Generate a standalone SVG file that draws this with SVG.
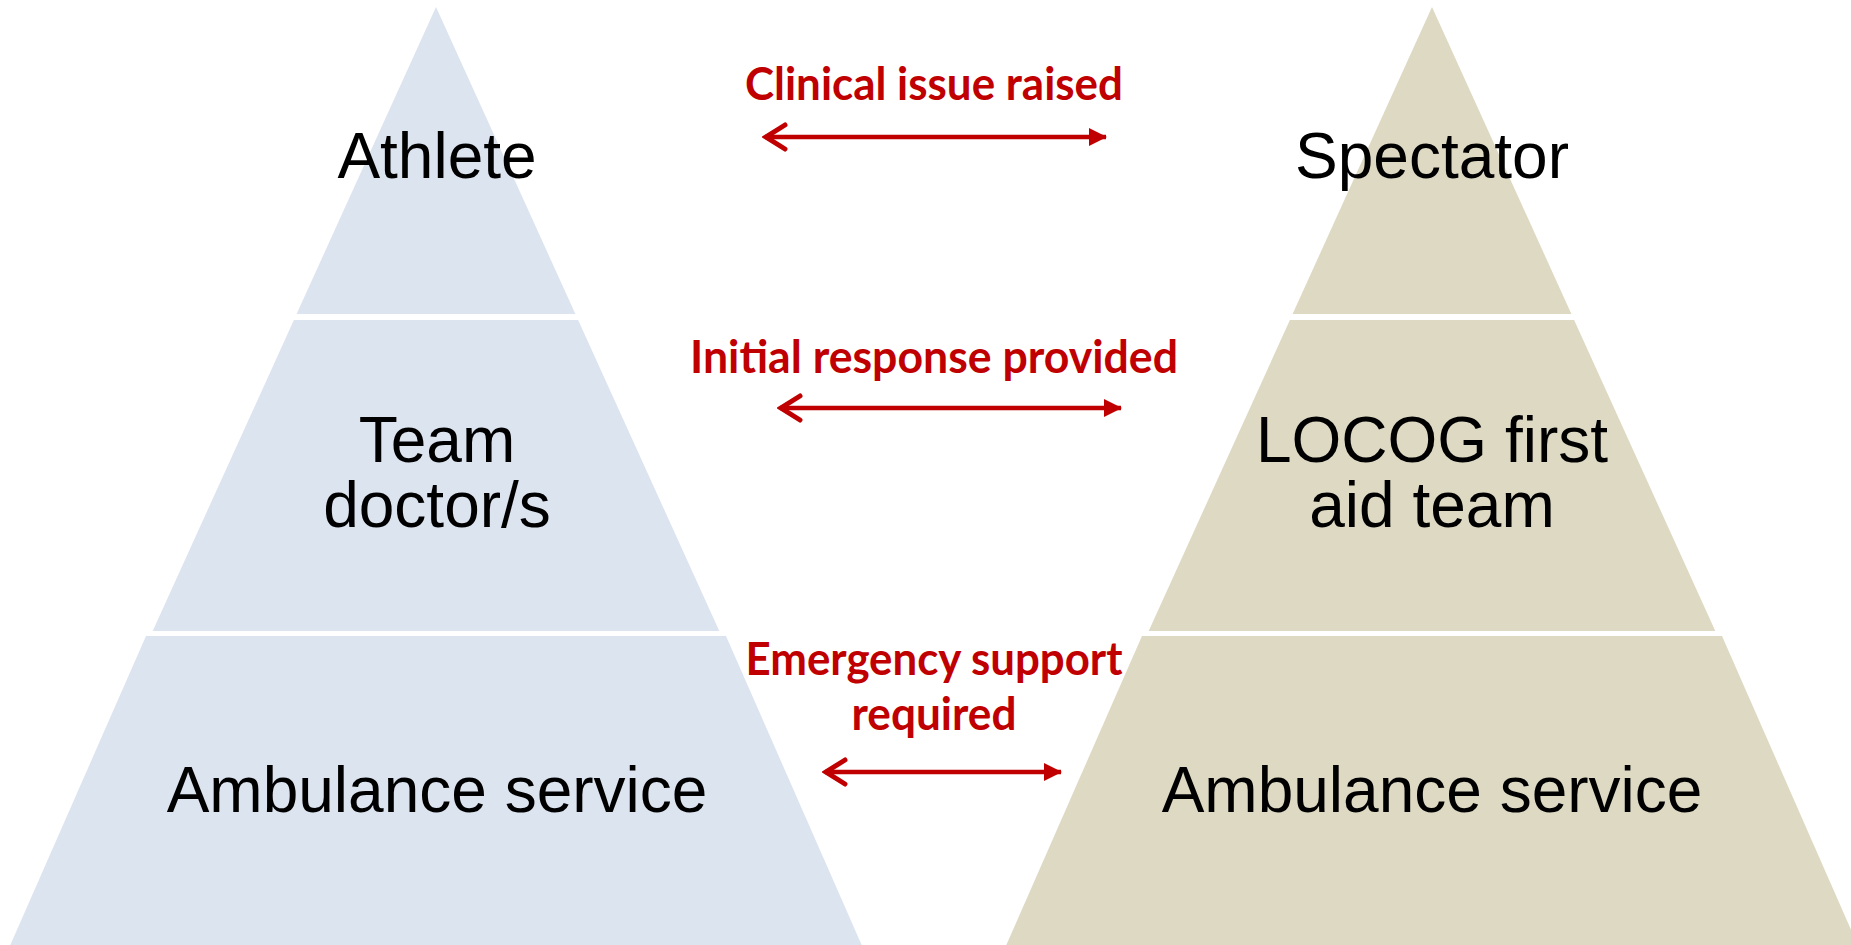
<svg xmlns="http://www.w3.org/2000/svg" width="1851" height="945" viewBox="0 0 1851 945">
<style>
.lvl{font-family:"Liberation Sans",Arial,sans-serif;font-size:64px;fill:#000;text-anchor:middle}
.lbl{font-family:Lato,"Open Sans",sans-serif;font-weight:bold;font-size:45px;fill:#C00000;text-anchor:middle}
.arr{stroke:#C00000;stroke-width:4.5;fill:none}
</style>
<defs>
<marker id="open" viewBox="0 0 26 30" refX="3" refY="15" markerWidth="26" markerHeight="30" markerUnits="userSpaceOnUse" orient="auto">
<path d="M23,3 L4,15 L23,27" fill="none" stroke="#C00000" stroke-width="5" stroke-linecap="round"/>
</marker>
<marker id="solid" viewBox="0 0 18 20" refX="17" refY="10" markerWidth="18" markerHeight="20" markerUnits="userSpaceOnUse" orient="auto">
<path d="M0,1 L18,10 L0,19 Z" fill="#C00000"/>
</marker>
</defs>
<g id="left-pyramid">
<g id="athlete"><polygon points="436,7 296.6,314 575.4,314" fill="#DCE4F0"/><text class="lvl" x="437" y="178">Athlete</text></g>
<g id="team-doctors"><polygon points="293.9,320 578.1,320 719.3,631 152.7,631" fill="#DCE4F0"/><text class="lvl" x="437" y="462">Team</text><text class="lvl" x="437" y="527">doctor/s</text></g>
<g id="ambulance-left"><polygon points="146,636 726,636 863,948 9,948" fill="#DCE4F0"/><text class="lvl" x="437" y="812">Ambulance service</text></g>
</g>
<g id="right-pyramid">
<g id="spectator"><polygon points="1432,7 1292.6,314 1571.4,314" fill="#DDD9C3"/><text class="lvl" x="1432" y="178">Spectator</text></g>
<g id="locog"><polygon points="1289.9,320 1574.1,320 1715.3,631 1148.7,631" fill="#DDD9C3"/><text class="lvl" x="1432" y="462">LOCOG first</text><text class="lvl" x="1432" y="527">aid team</text></g>
<g id="ambulance-right"><polygon points="1142,636 1722,636 1859,948 1005,948" fill="#DDD9C3"/><text class="lvl" x="1432" y="812">Ambulance service</text></g>
</g>
<g id="connectors">
<line class="arr" x1="765" y1="137" x2="1106" y2="137" marker-start="url(#open)" marker-end="url(#solid)"/>
<line class="arr" x1="780" y1="408" x2="1121" y2="408" marker-start="url(#open)" marker-end="url(#solid)"/>
<line class="arr" x1="825" y1="772" x2="1061" y2="772" marker-start="url(#open)" marker-end="url(#solid)"/>
<text class="lbl" x="934" y="100" textLength="378" lengthAdjust="spacingAndGlyphs">Clinical issue raised</text>
<text class="lbl" x="934" y="373" textLength="488" lengthAdjust="spacingAndGlyphs">Initial response provided</text>
<text class="lbl" x="934" y="675" textLength="377" lengthAdjust="spacingAndGlyphs">Emergency support</text>
<text class="lbl" x="934" y="730" textLength="165" lengthAdjust="spacingAndGlyphs">required</text>
</g>
</svg>
